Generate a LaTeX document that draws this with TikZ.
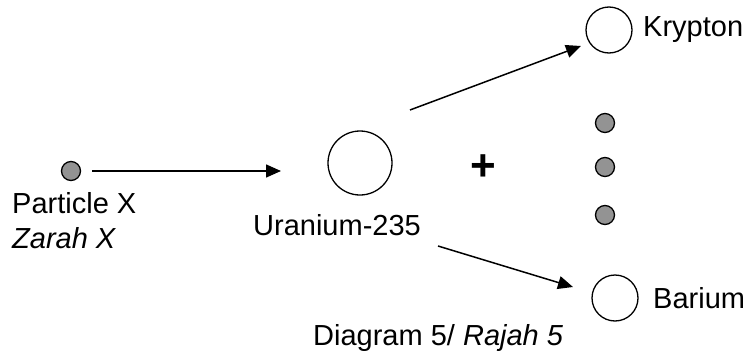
\documentclass[tikz,border=0pt]{standalone}
\usepackage{fontspec}
\setmainfont{Liberation Sans}
\usetikzlibrary{arrows.meta}
\begin{document}
\begin{tikzpicture}[x=1pt,y=-1pt,
  lbl/.style={inner sep=0pt,anchor=base west,font=\fontsize{29}{35}\selectfont},
  dot/.style={circle,draw=black,fill=gray!85,line width=1.3pt,minimum size=19pt,inner sep=0pt},
  atom/.style={circle,draw=black,line width=1.3pt,inner sep=0pt},
  arr/.style={line width=1.5pt,-{Triangle[length=15pt,width=13pt]}}]
\useasboundingbox (0,0) rectangle (748,351);
% particles
\node[dot] (px) at (71,171) {};
\node[atom,minimum size=64pt] (u) at (360,163) {};
\node[atom,minimum size=46pt] (kr) at (609,30) {};
\node[atom,minimum size=46pt] (ba) at (615,298) {};
\node[dot] (n1) at (605,123) {};
\node[dot] (n2) at (605,167) {};
\node[dot] (n3) at (605,215) {};
% labels
\node[lbl] (tpx) at (12,213) {Particle X};
\node[lbl] (tzx) at (12,248) {\itshape Zarah X};
\node[lbl] (tu) at (253,235) {Uranium-235};
\node[lbl] (tkr) at (643,36) {Krypton};
\node[lbl] (tba) at (653,308) {Barium};
\node[lbl] (tdg) at (313,345) {Diagram 5/ \itshape Rajah 5};
\node[inner sep=0pt,font=\fontsize{44}{50}\selectfont\bfseries] (plus) at (483,168) {+};
% arrow end points
\coordinate (a1s) at (92,171);
\coordinate (a1e) at (281,171);
\coordinate (a2s) at (410,110);
\coordinate (a2e) at (581,46);
\coordinate (a3s) at (438,246);
\coordinate (a3e) at (573,287);
\draw[arr] (a1s) -- (a1e);
\draw[arr] (a2s) -- (a2e);
\draw[arr] (a3s) -- (a3e);
\end{tikzpicture}
\end{document}
